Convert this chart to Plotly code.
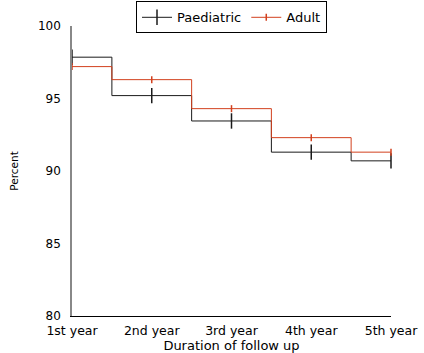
import plotly.graph_objects as go

years = ["1st year", "2nd year", "3rd year", "4th year", "5th year"]
x_pos = [1, 2, 3, 4, 5]
paediatric = [97.85, 95.2, 93.45, 91.3, 90.7]
adult = [97.2, 96.3, 94.3, 92.3, 91.3]

FONT = "DejaVu Sans, Verdana, sans-serif"

fig = go.Figure()
fig.add_trace(go.Scatter(
    x=x_pos, y=paediatric, name="Paediatric", mode="lines+markers",
    line=dict(color="#1a1a1a", width=1, shape="hvh"),
    marker=dict(symbol="line-ns-open", size=11, line=dict(color="#000000", width=1.5)),
    cliponaxis=False,
))
fig.add_trace(go.Scatter(
    x=x_pos, y=adult, name="Adult", mode="lines+markers",
    line=dict(color="#d2401e", width=1, shape="hvh"),
    marker=dict(symbol="line-ns-open", size=5, line=dict(color="#d2401e", width=1.5)),
    cliponaxis=False,
))

fig.update_layout(
    width=424, height=353,
    margin=dict(l=72, r=33, t=26, b=37, autoexpand=False),
    paper_bgcolor="white", plot_bgcolor="white",
    font=dict(family=FONT, size=12, color="#000"),
    showlegend=True,
    legend=dict(orientation="h", x=0.5, xanchor="center", y=1.085, yanchor="top",
                bordercolor="#000", borderwidth=1, font=dict(size=13),
                itemwidth=30, tracegroupgap=0),
    xaxis=dict(range=[1, 5], tickvals=x_pos, ticktext=years, showgrid=False,
               zeroline=False, showline=True, linecolor="#000", linewidth=1,
               ticks="outside", ticklen=3, tickcolor="rgba(0,0,0,0)",
               tickfont=dict(size=12.5), automargin=False,
               title=dict(text="Duration of follow up", font=dict(size=13), standoff=4)),
    yaxis=dict(range=[80, 100], tickvals=[80, 85, 90, 95, 100], showgrid=False,
               zeroline=False, showline=True, linecolor="#888", linewidth=1.5,
               ticks="outside", ticklen=7, tickcolor="rgba(0,0,0,0)",
               tickfont=dict(size=12), automargin=False,
               title=dict(text="Percent", font=dict(size=10.5), standoff=17)),
)

fig.write_html("out.html")
